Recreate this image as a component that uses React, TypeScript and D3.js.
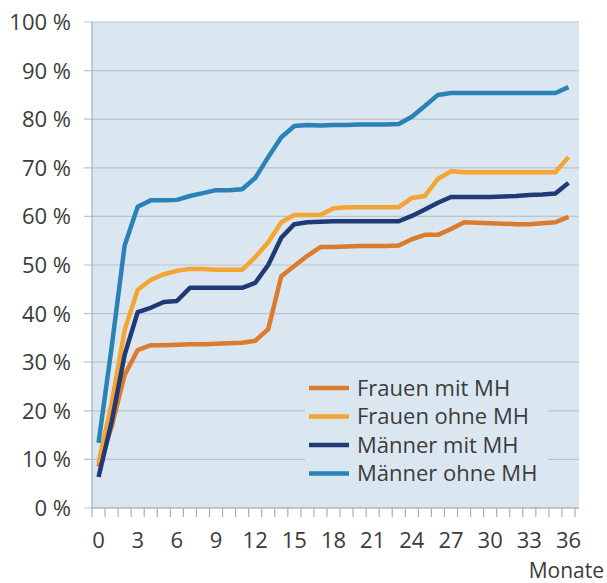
import React, { useRef, useEffect } from 'react';
import * as d3 from 'd3';

const months = d3.range(0, 37);

const frauenMitMH = [
  8.5, 16.7, 27.4, 32.5, 33.5, 33.5, 33.6, 33.7, 33.7, 33.8, 33.9, 34.0, 34.4, 36.8, 47.7, 49.8, 51.9,
  53.7, 53.7, 53.8, 53.9, 53.9, 53.9, 54.0, 55.3, 56.2, 56.2, 57.4, 58.8, 58.7, 58.6, 58.5, 58.4, 58.4,
  58.6, 58.8, 59.9,
];
const frauenOhneMH = [
  9.3, 21.4, 36.6, 44.9, 46.9, 48.1, 48.8, 49.2, 49.2, 49.0, 49.0, 49.0, 51.6, 54.7, 58.8, 60.3, 60.3,
  60.3, 61.7, 61.9, 61.9, 61.9, 61.9, 61.9, 63.8, 64.2, 67.7, 69.3, 69.1, 69.1, 69.1, 69.1, 69.1, 69.1,
  69.1, 69.1, 72.2,
];
const maennerMitMH = [
  6.4, 17.7, 31.5, 40.3, 41.2, 42.4, 42.6, 45.3, 45.3, 45.3, 45.3, 45.3, 46.3, 50.0, 55.6, 58.4, 58.8,
  58.9, 59.0, 59.0, 59.0, 59.0, 59.0, 59.0, 60.1, 61.4, 62.8, 64.0, 64.0, 64.0, 64.0, 64.1, 64.2, 64.4,
  64.5, 64.7, 66.9,
];
const maennerOhneMH = [
  13.4, 33.0, 54.0, 62.0, 63.3, 63.3, 63.4, 64.2, 64.8, 65.4, 65.4, 65.6, 67.9, 72.2, 76.3, 78.6, 78.8,
  78.7, 78.8, 78.8, 78.9, 78.9, 78.9, 79.0, 80.5, 82.7, 85.0, 85.4, 85.4, 85.4, 85.4, 85.4, 85.4, 85.4,
  85.4, 85.4, 86.6,
];

const seriesNames = ['Frauen mit MH', 'Frauen ohne MH', 'Männer mit MH', 'Männer ohne MH'];
const seriesValues = [frauenMitMH, frauenOhneMH, maennerMitMH, maennerOhneMH];
const seriesColors = ['#dc7b2c', '#f5a531', '#203a78', '#2a82b6'];

const yTicks = d3.range(0, 101, 10);
const xTickLabels = d3.range(0, 37, 3);

const FONT = '"Open Sans", "Noto Sans", sans-serif';
const TEXT = '#3b3b3b';

export default function App() {
  const ref = useRef<SVGSVGElement>(null);

  useEffect(() => {
    const svg = d3.select(ref.current);
    svg.selectAll('*').remove();

    const left = 92;
    const right = 579;
    const top = 22;
    const bottom = 508;

    const x = d3.scaleLinear().domain([-0.5, 36.5]).range([left, 575]);
    const y = d3.scaleLinear().domain([0, 100]).range([bottom, top]);

    // plot background
    svg
      .append('rect')
      .attr('x', left)
      .attr('y', top)
      .attr('width', right - left)
      .attr('height', bottom - top)
      .attr('fill', '#dbe7f0');

    // gridlines + y ticks
    svg
      .selectAll('.grid')
      .data(yTicks)
      .enter()
      .append('line')
      .attr('x1', 84)
      .attr('x2', right)
      .attr('y1', (d) => y(d))
      .attr('y2', (d) => y(d))
      .attr('stroke', '#b9c4cc')
      .attr('stroke-width', 1.2);

    svg
      .selectAll('.ylab')
      .data(yTicks)
      .enter()
      .append('text')
      .attr('x', 71)
      .attr('y', (d) => y(d))
      .attr('dy', '0.36em')
      .attr('text-anchor', 'end')
      .attr('font-family', FONT)
      .attr('font-size', 22)
      .attr('fill', TEXT)
      .text((d) => `${d} %`);

    // axes lines
    svg
      .append('line')
      .attr('x1', left)
      .attr('x2', left)
      .attr('y1', top)
      .attr('y2', bottom)
      .attr('stroke', '#a7b0b7')
      .attr('stroke-width', 1.2);
    svg
      .append('line')
      .attr('x1', left)
      .attr('x2', right)
      .attr('y1', bottom)
      .attr('y2', bottom)
      .attr('stroke', '#a7b0b7')
      .attr('stroke-width', 1.2);

    // x ticks at month boundaries
    const boundaries = d3.range(-0.5, 37, 1);
    svg
      .selectAll('.xtick')
      .data(boundaries)
      .enter()
      .append('line')
      .attr('x1', (d) => x(d))
      .attr('x2', (d) => x(d))
      .attr('y1', bottom)
      .attr('y2', bottom + 9)
      .attr('stroke', '#a7b0b7')
      .attr('stroke-width', 1.2);

    svg
      .selectAll('.xlab')
      .data(xTickLabels)
      .enter()
      .append('text')
      .attr('x', (d) => x(d))
      .attr('y', 548)
      .attr('text-anchor', 'middle')
      .attr('font-family', FONT)
      .attr('font-size', 22)
      .attr('fill', TEXT)
      .text((d) => d);

    svg
      .append('text')
      .attr('x', 604)
      .attr('y', 578)
      .attr('text-anchor', 'end')
      .attr('font-family', FONT)
      .attr('font-size', 21)
      .attr('fill', TEXT)
      .text('Monate');

    // lines
    const line = d3
      .line<number>()
      .x((_, i) => x(months[i]))
      .y((d) => y(d));

    seriesValues.forEach((vals, i) => {
      svg
        .append('path')
        .datum(vals)
        .attr('d', line)
        .attr('fill', 'none')
        .attr('stroke', seriesColors[i])
        .attr('stroke-width', 4.5)
        .attr('stroke-linejoin', 'round');
    });

    // legend
    const lg = svg.append('g');
    lg.append('rect')
      .attr('x', 305)
      .attr('y', 368)
      .attr('width', 243)
      .attr('height', 122)
      .attr('fill', '#dbe7f0');
    seriesNames.forEach((name, i) => {
      const cy = 388 + i * 28.5;
      lg.append('line')
        .attr('x1', 309)
        .attr('x2', 349)
        .attr('y1', cy)
        .attr('y2', cy)
        .attr('stroke', seriesColors[i])
        .attr('stroke-width', 4.5);
      lg.append('text')
        .attr('x', 357)
        .attr('y', cy)
        .attr('dy', '0.36em')
        .attr('font-family', FONT)
        .attr('font-size', 22)
        .attr('fill', TEXT)
        .text(name);
    });
  }, []);

  return (
    <svg
      ref={ref}
      width={607}
      height={583}
      style={{ position: 'absolute', left: 0, top: 0, background: '#fff' }}
    />
  );
}
